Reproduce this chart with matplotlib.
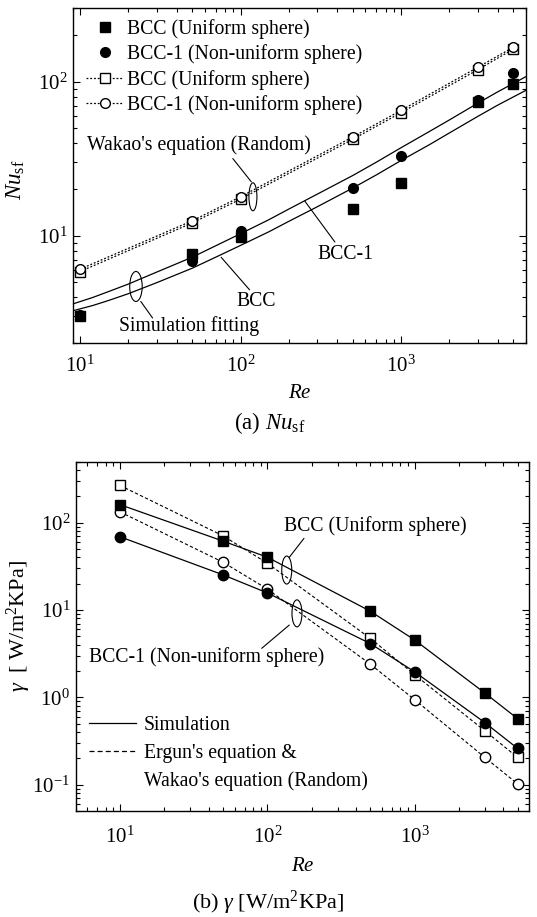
import matplotlib
matplotlib.use('Agg')
import matplotlib.pyplot as plt
from matplotlib.patches import Ellipse
from matplotlib.transforms import IdentityTransform, Affine2D
from matplotlib.lines import Line2D
from matplotlib.ticker import LogLocator, NullFormatter

plt.rcParams.update({
    'font.family': ['Liberation Serif', 'DejaVu Serif'],
    'font.size': 14,
    'mathtext.fontset': 'custom',
    'mathtext.rm': 'Liberation Serif',
    'mathtext.it': 'Liberation Serif:italic',
    'mathtext.bf': 'Liberation Serif:bold',
    'axes.unicode_minus': False,
})

# ---------------- data ----------------
re = [10, 50, 100, 500, 1000, 3000, 5000]

# (a) Nu_sf
nu_bcc_sim = [3.0, 7.6, 9.8, 14.9, 22.0, 73.8, 97.1]
nu_bcc1_sim = [3.05, 6.8, 10.7, 20.3, 33.0, 76.4, 113.7]
nu_bcc_wakao = [5.85, 12.1, 17.3, 42.3, 63.0, 119.6, 163.0]
nu_bcc1_wakao = [6.06, 12.5, 17.9, 43.8, 65.2, 124.0, 167.6]

# simulation fitting curves
re_fit = [9, 12, 15, 20, 30, 50, 70, 100, 150, 200, 300, 500, 700, 1000, 1500, 2000, 3000,
          4000, 6000]
nu_fit_bcc = [3.25, 3.52, 3.79, 4.2, 4.95, 6.15, 7.25, 8.65, 10.6, 12.4, 15.4, 20.4, 24.8,
              30.8, 39.0, 46.5, 59.5, 70.5, 88.0]
nu_fit_bcc1 = [3.6, 3.97, 4.33, 4.85, 5.8, 7.25, 8.6, 10.3, 12.7, 14.9, 18.6, 24.6, 30.0,
               37.3, 47.5, 56.5, 72.5, 86.0, 108.0]

# (b) gamma
g_bcc_sim = [161, 61.6, 40.3, 9.7, 4.54, 1.12, 0.57]
g_bcc1_sim = [69, 25.3, 15.7, 4.13, 1.96, 0.513, 0.26]
g_bcc_erg = [267, 70.8, 34.4, 4.74, 1.82, 0.413, 0.205]
g_bcc1_erg = [133, 35.3, 17.4, 2.40, 0.94, 0.205, 0.102]

W, H = 537, 917
fig = plt.figure(figsize=(W / 100, H / 100), dpi=100)

FS = 14.2     # annotation / legend text
TFS = 15      # tick labels


def axes_px(left, top, right, bottom):
    return fig.add_axes([left / W, 1 - bottom / H, (right - left) / W, (bottom - top) / H])


def style_axes(ax, xpad):
    ax.set_xscale('log')
    ax.set_yscale('log')
    ax.tick_params(which='both', direction='in', top=True, right=True, width=0.8)
    ax.tick_params(which='major', length=5, labelsize=TFS)
    ax.tick_params(axis='x', which='major', pad=xpad)
    ax.tick_params(axis='y', which='major', pad=4)
    ax.tick_params(which='minor', length=3)
    ax.yaxis.set_minor_locator(LogLocator(base=10, subs=range(2, 10), numticks=20))
    ax.xaxis.set_minor_locator(LogLocator(base=10, subs=range(2, 10), numticks=20))
    ax.xaxis.set_minor_formatter(NullFormatter())
    ax.yaxis.set_minor_formatter(NullFormatter())
    for s in ax.spines.values():
        s.set_linewidth(1.0)


def ellipse(ax, x, y, wpx, hpx):
    cx, cy = ax.transData.transform((x, y))
    e = Ellipse((0, 0), wpx, hpx, fill=False, lw=0.8, ec='black',
                transform=Affine2D().translate(cx, cy) + IdentityTransform())
    e.set_clip_on(False)
    ax.add_patch(e)


def leader(ax, p1, p2):
    ax.annotate('', xy=p1, xytext=p2,
                arrowprops=dict(arrowstyle='-', lw=0.8, color='black', shrinkA=0, shrinkB=0))


# ---------------- (a) ----------------
ax1 = axes_px(72.7, 8.3, 526, 343.3)
style_axes(ax1, 9)
ax1.set_xlim(9, 6000)
ax1.set_ylim(2, 300)

ms = 6.5
ax1.plot(re_fit, nu_fit_bcc1, '-', color='black', lw=0.9, zorder=2)
ax1.plot(re_fit, nu_fit_bcc, '-', color='black', lw=0.9, zorder=2)
h1, = ax1.plot(re, nu_bcc_sim, 's', color='black', ms=ms, ls='none', zorder=4,
               label='BCC (Uniform sphere)')
h2, = ax1.plot(re, nu_bcc1_sim, 'o', color='black', ms=ms + 0.5, ls='none', zorder=4,
               label='BCC-1 (Non-uniform sphere)')
h3, = ax1.plot(re, nu_bcc_wakao, 's', mfc='white', mec='black', color='black', ms=ms,
               ls=(0, (1.5, 1.5)), lw=0.9, zorder=3, label='BCC (Uniform sphere)')
h4, = ax1.plot(re, nu_bcc1_wakao, 'o', mfc='white', mec='black', color='black', ms=ms + 0.5,
               ls=(0, (1.5, 1.5)), lw=0.9, zorder=3, label='BCC-1 (Non-uniform sphere)')

ax1.legend(handles=[h1, h2, h3, h4], loc='upper left', bbox_to_anchor=(0.03, 0.968),
           frameon=False, fontsize=FS, handlelength=1.86, handletextpad=0.2,
           labelspacing=0.28, borderpad=0, borderaxespad=0)

ax1.set_xlabel(r'$\mathit{Re}$', fontsize=15)
ax1.xaxis.set_label_coords(0.5, -0.122)
ax1.set_ylabel(r'$\mathit{Nu}_{\mathrm{sf}}$', fontsize=16.5)
ax1.yaxis.set_label_coords(-0.1, 0.487)

ax1.text(55.4, 38.6, "Wakao's equation (Random)", ha='center', va='center', fontsize=FS)
leader(ax1, (89.5, 31.7), (116.6, 22.4))
ellipse(ax1, 119.4, 17.9, 8, 28)

ax1.text(48, 2.58, 'Simulation fitting', ha='center', va='center', fontsize=FS)
ellipse(ax1, 22.3, 4.68, 12.5, 30)
leader(ax1, (23.9, 3.74), (28.3, 2.92))

ax1.text(125, 3.74, 'BCC', ha='center', va='center', fontsize=FS)
leader(ax1, (75.7, 7.24), (113.8, 4.45))
ax1.text(453, 7.6, 'BCC-1', ha='center', va='center', fontsize=FS)
leader(ax1, (251, 16.8), (387, 9.1))

fig.text(270 / W, 1 - 423 / H, r'(a) $\mathit{Nu}_{\mathrm{sf}}$', ha='center', va='center',
         fontsize=16.5)

# ---------------- (b) ----------------
ax2 = axes_px(75.7, 461.7, 529.2, 810.9)
style_axes(ax2, 11.5)
ax2.set_xlim(5, 6000)
ax2.set_ylim(0.05, 500)

ms2 = 7
ax2.plot(re, g_bcc_sim, 's-', color='black', ms=ms2, lw=0.9, zorder=4)
ax2.plot(re, g_bcc1_sim, 'o-', color='black', ms=ms2 + 0.5, lw=0.9, zorder=4)
ax2.plot(re, g_bcc_erg, 's', ls=(0, (3, 2)), color='black', mfc='white', mec='black',
         ms=ms2, lw=0.8, zorder=3)
ax2.plot(re, g_bcc1_erg, 'o', ls=(0, (3, 2)), color='black', mfc='white', mec='black',
         ms=ms2 + 0.5, lw=0.8, zorder=3)

hs = Line2D([], [], color='black', lw=0.9, ls='-')
hd = Line2D([], [], color='black', lw=0.9, ls=(0, (4, 2.5)))
hn = Line2D([], [], color='none')
ax2.legend(handles=[hs, hd, hn],
           labels=['Simulation', "Ergun's equation &", "Wakao's equation (Random)"],
           loc='upper left', bbox_to_anchor=(0.03, 0.272), frameon=False, fontsize=FS,
           handlelength=2.35, handletextpad=0.42, labelspacing=0.45, borderpad=0,
           borderaxespad=0)

ax2.text(538, 90.4, 'BCC (Uniform sphere)', ha='center', va='center', fontsize=FS)
ellipse(ax2, 135.5, 28.7, 10, 28)
leader(ax2, (141, 40.2), (177.4, 66.2))

ax2.text(39, 2.92, 'BCC-1 (Non-uniform sphere)', ha='center', va='center', fontsize=FS)
ellipse(ax2, 159, 9.16, 10, 27)
leader(ax2, (141, 6.73), (91.6, 3.64))

ax2.set_xlabel(r'$\mathit{Re}$', fontsize=15)
ax2.xaxis.set_label_coords(0.5, -0.133)
ax2.set_ylabel(r'$\gamma$  [ W/m$^2$KPa]', fontsize=16)
ax2.yaxis.set_label_coords(-0.095, 0.53)

fig.text(268 / W, 1 - 903 / H, r'(b) $\gamma$ [W/m$^2$KPa]', ha='center', va='center',
         fontsize=16)

fig.savefig('out.png', dpi=100)
